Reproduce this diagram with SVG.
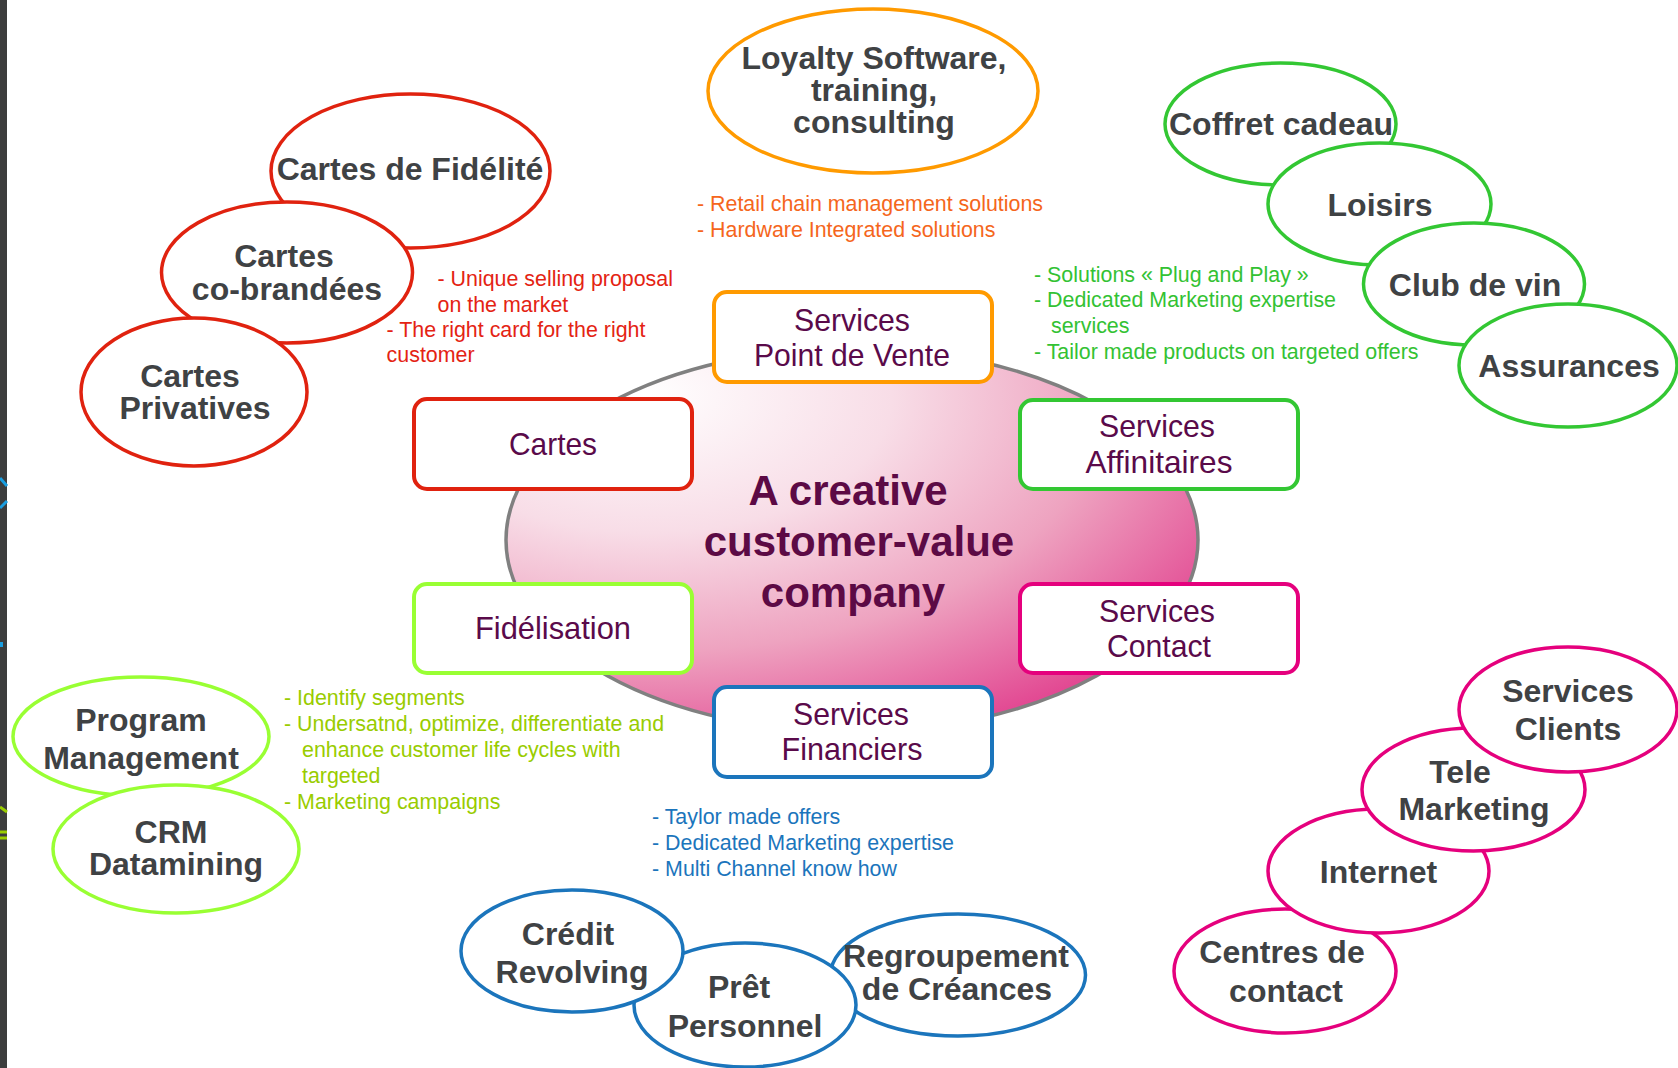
<svg xmlns="http://www.w3.org/2000/svg" width="1678" height="1068" viewBox="0 0 1678 1068">
<style>
.bg{fill:#ffffff}
.box{fill:#ffffff;stroke-width:4}
.ell{fill:#ffffff;stroke-width:3.5}
.red{stroke:#e0220f}
.org{stroke:#ff9a00}
.grn{stroke:#33c733}
.lim{stroke:#99ff33}
.pnk{stroke:#e5007d}
.blu{stroke:#1b75bc}
.lbl{font-family:"Liberation Sans",Arial,sans-serif;font-weight:bold;font-size:32px;fill:#3f4244;text-anchor:middle}
.blbl{font-family:"Liberation Sans",Arial,sans-serif;font-size:32px;fill:#5a0a4a;text-anchor:middle}
.ctr{font-family:"Liberation Sans",Arial,sans-serif;font-weight:bold;font-size:42px;fill:#5c0a45;text-anchor:middle}
.desc{font-family:"Liberation Sans",Arial,sans-serif;font-size:21.4px}
.dred{fill:#e42313}
.dorg{fill:#f5661c}
.dgrn{fill:#33c233}
.dlim{fill:#99cc00}
.dblu{fill:#1b75bc}
</style>
<defs>
<radialGradient id="core" cx="0.22" cy="0.15" r="1.0" fx="0.2" fy="0.12">
<stop offset="0" stop-color="#ffffff"/>
<stop offset="0.35" stop-color="#f8dde7"/>
<stop offset="0.65" stop-color="#eea3c0"/>
<stop offset="1" stop-color="#e0388a"/>
</radialGradient>
</defs>
<rect class="bg" x="0" y="0" width="1678" height="1068"/>
<rect x="0" y="0" width="7" height="1068" fill="#3c3d3d"/>
<path d="M0,478 L7,486 M7,501 L0,508" stroke="#1a9ee0" stroke-width="3" fill="none"/>
<rect x="0" y="642" width="3" height="5" fill="#1a9ee0"/>
<path d="M0,807 L7,812 M0,832 L7,832 M0,838 L7,838" stroke="#99cc00" stroke-width="3" fill="none"/>

<g id="connectors"></g>

<g id="core-company">
<ellipse cx="852" cy="540" rx="346" ry="192" fill="url(#core)" stroke="#808080" stroke-width="3.5"/>
<text class="ctr" x="848" y="505">A creative</text>
<text class="ctr" x="859" y="556">customer-value</text>
<text class="ctr" x="853" y="607">company</text>
</g>

<g id="box-point-de-vente">
<rect class="box org" x="714" y="292" width="278" height="90" rx="13"/>
<text class="blbl" x="852" y="331" textLength="116" lengthAdjust="spacingAndGlyphs">Services</text>
<text class="blbl" x="852" y="366" textLength="196" lengthAdjust="spacingAndGlyphs">Point de Vente</text>
</g>
<g id="box-cartes">
<rect class="box red" x="414" y="399" width="278" height="90" rx="13"/>
<text class="blbl" x="553" y="455" textLength="88" lengthAdjust="spacingAndGlyphs">Cartes</text>
</g>
<g id="box-affinitaires">
<rect class="box grn" x="1020" y="400" width="278" height="89" rx="13"/>
<text class="blbl" x="1157" y="437" textLength="116" lengthAdjust="spacingAndGlyphs">Services</text>
<text class="blbl" x="1159" y="473" textLength="147" lengthAdjust="spacingAndGlyphs">Affinitaires</text>
</g>
<g id="box-fidelisation">
<rect class="box lim" x="414" y="584" width="278" height="89" rx="13"/>
<text class="blbl" x="553" y="639" textLength="156" lengthAdjust="spacingAndGlyphs">Fidélisation</text>
</g>
<g id="box-contact">
<rect class="box pnk" x="1020" y="584" width="278" height="89" rx="13"/>
<text class="blbl" x="1157" y="622" textLength="116" lengthAdjust="spacingAndGlyphs">Services</text>
<text class="blbl" x="1159" y="657" textLength="104" lengthAdjust="spacingAndGlyphs">Contact</text>
</g>
<g id="box-financiers">
<rect class="box blu" x="714" y="687" width="278" height="90" rx="13"/>
<text class="blbl" x="851" y="725" textLength="116" lengthAdjust="spacingAndGlyphs">Services</text>
<text class="blbl" x="852" y="760" textLength="141" lengthAdjust="spacingAndGlyphs">Financiers</text>
</g>

<g id="cartes-fidelite">
<ellipse class="ell red" cx="410.5" cy="171" rx="139.5" ry="77"/>
<text class="lbl" x="410" y="180">Cartes de Fidélité</text>
</g>
<g id="cartes-cobrandees">
<ellipse class="ell red" cx="287" cy="272.5" rx="125.5" ry="70.5"/>
<text class="lbl" x="284" y="267">Cartes</text>
<text class="lbl" x="287" y="300">co-brandées</text>
</g>
<g id="cartes-privatives">
<ellipse class="ell red" cx="194" cy="392" rx="113" ry="74"/>
<text class="lbl" x="190" y="387">Cartes</text>
<text class="lbl" x="195" y="419">Privatives</text>
</g>

<g id="loyalty-software">
<ellipse class="ell org" cx="873" cy="91" rx="165" ry="82"/>
<text class="lbl" x="874" y="69">Loyalty Software,</text>
<text class="lbl" x="874" y="101">training,</text>
<text class="lbl" x="874" y="133">consulting</text>
</g>

<g id="coffret-cadeau">
<ellipse class="ell grn" cx="1280.5" cy="124" rx="115.5" ry="61"/>
<text class="lbl" x="1281" y="135">Coffret cadeau</text>
</g>
<g id="loisirs">
<ellipse class="ell grn" cx="1379.5" cy="204" rx="111.5" ry="61"/>
<text class="lbl" x="1380" y="216">Loisirs</text>
</g>
<g id="club-de-vin">
<ellipse class="ell grn" cx="1474" cy="284" rx="110.5" ry="61"/>
<text class="lbl" x="1475" y="296">Club de vin</text>
</g>
<g id="assurances">
<ellipse class="ell grn" cx="1568" cy="365.5" rx="109" ry="61.5"/>
<text class="lbl" x="1569" y="377">Assurances</text>
</g>

<g id="centres-de-contact">
<ellipse class="ell pnk" cx="1285" cy="971" rx="111" ry="62"/>
<text class="lbl" x="1282" y="963">Centres de</text>
<text class="lbl" x="1286" y="1002">contact</text>
</g>
<g id="internet">
<ellipse class="ell pnk" cx="1378.5" cy="871" rx="110.5" ry="62"/>
<text class="lbl" x="1378.5" y="883">Internet</text>
</g>
<g id="tele-marketing">
<ellipse class="ell pnk" cx="1473.5" cy="789.5" rx="111.5" ry="61.5"/>
<text class="lbl" x="1460" y="783">Tele</text>
<text class="lbl" x="1474" y="820">Marketing</text>
</g>
<g id="services-clients">
<ellipse class="ell pnk" cx="1568" cy="709.5" rx="109" ry="62.5"/>
<text class="lbl" x="1568" y="702">Services</text>
<text class="lbl" x="1568" y="740">Clients</text>
</g>

<g id="program-management">
<ellipse class="ell lim" cx="141" cy="736.5" rx="128" ry="59.5"/>
<text class="lbl" x="141" y="731">Program</text>
<text class="lbl" x="141" y="769">Management</text>
</g>
<g id="crm-datamining">
<ellipse class="ell lim" cx="176" cy="849" rx="123" ry="64"/>
<text class="lbl" x="171" y="843">CRM</text>
<text class="lbl" x="176" y="875">Datamining</text>
</g>

<g id="regroupement">
<ellipse class="ell blu" cx="958" cy="975" rx="127.5" ry="61"/>
<text class="lbl" x="956" y="967">Regroupement</text>
<text class="lbl" x="957" y="1000">de Créances</text>
</g>
<g id="pret-personnel">
<ellipse class="ell blu" cx="745" cy="1005" rx="111" ry="62"/>
<text class="lbl" x="739" y="998">Prêt</text>
<text class="lbl" x="745" y="1037">Personnel</text>
</g>
<g id="credit-revolving">
<ellipse class="ell blu" cx="572" cy="951" rx="111" ry="61"/>
<text class="lbl" x="568" y="945">Crédit</text>
<text class="lbl" x="572" y="983">Revolving</text>
</g>

<g id="desc-cartes" class="desc dred">
<text x="437.5" y="286">- Unique selling proposal</text>
<text x="437.5" y="312">on the market</text>
<text x="386.6" y="337">- The right card for the right</text>
<text x="386.6" y="362">customer</text>
</g>
<g id="desc-point-de-vente" class="desc dorg">
<text x="697" y="211">- Retail chain management solutions</text>
<text x="697" y="237">- Hardware Integrated solutions</text>
</g>
<g id="desc-affinitaires" class="desc dgrn">
<text x="1034" y="282">- Solutions « Plug and Play »</text>
<text x="1034" y="307">- Dedicated Marketing expertise</text>
<text x="1051" y="333">services</text>
<text x="1034" y="359">- Tailor made products on targeted offers</text>
</g>
<g id="desc-fidelisation" class="desc dlim">
<text x="284" y="705">- Identify segments</text>
<text x="284" y="731">- Undersatnd, optimize, differentiate and</text>
<text x="302" y="757">enhance customer life cycles with</text>
<text x="302" y="783">targeted</text>
<text x="284" y="809">- Marketing campaigns</text>
</g>
<g id="desc-financiers" class="desc dblu">
<text x="652" y="824">- Taylor made offers</text>
<text x="652" y="850">- Dedicated Marketing expertise</text>
<text x="652" y="876">- Multi Channel know how</text>
</g>
</svg>
